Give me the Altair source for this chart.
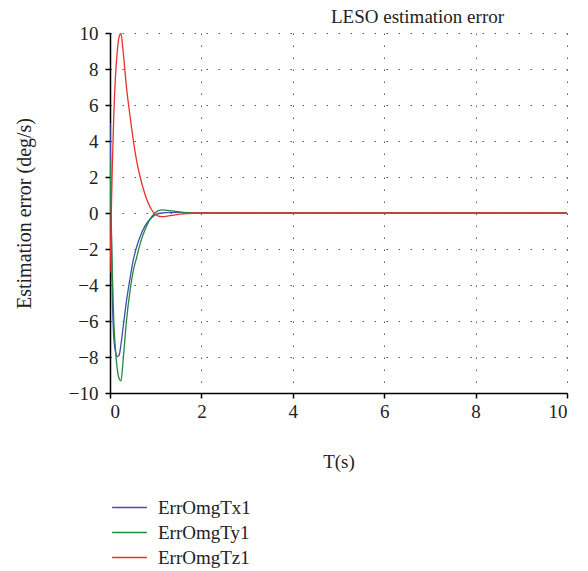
import altair as alt
import pandas as pd

t = [0, 0.01, 0.02, 0.03, 0.05, 0.08, 0.12, 0.16, 0.2, 0.24, 0.29, 0.36, 0.44,
     0.51, 0.58, 0.66, 0.77, 0.875, 0.98, 1.13, 1.31, 1.6, 2.0, 3, 4, 5, 6, 7, 8, 9, 10]
err_x = [5, 3.2, 1.0, -1.2, -4.5, -6.8, -7.7, -7.98, -7.9, -7.3, -6.3, -4.9, -3.6,
         -2.6, -1.9, -1.3, -0.7, -0.35, -0.12, 0.0, 0.03, 0.02, 0, 0, 0, 0, 0, 0, 0, 0, 0]
err_y = [3, 1.8, 0.5, -0.8, -3.2, -5.8, -7.6, -8.7, -9.2, -9.33, -8.1, -6.0, -4.3,
         -3.2, -2.5, -1.7, -0.9, -0.35, 0.0, 0.17, 0.13, 0.04, 0, 0, 0, 0, 0, 0, 0, 0, 0]
err_z = [-3.3, -2.2, -1.0, 0.2, 2.5, 5.2, 7.6, 9.0, 9.8, 9.97, 8.9, 7.0, 5.35,
         4.05, 2.94, 2.0, 1.0, 0.35, -0.05, -0.2, -0.15, -0.05, 0, 0, 0, 0, 0, 0, 0, 0, 0]
series = ["ErrOmgTx1", "ErrOmgTy1", "ErrOmgTz1"]
colors = ["#4050b0", "#23893f", "#e8332a"]

rows = []
for name, vals in zip(series, [err_x, err_y, err_z]):
    for ti, v in zip(t, vals):
        rows.append({"T": ti, "err": v, "series": name})
df = pd.DataFrame(rows)

font = "Liberation Serif, Times New Roman, serif"
fs = 19

chart = alt.Chart(df).mark_line(strokeWidth=1.3, interpolate="monotone", clip=True).encode(
    x=alt.X("T:Q", scale=alt.Scale(domain=[0, 10], nice=False),
            axis=alt.Axis(title="T(s)", values=[0, 2, 4, 6, 8, 10], titlePadding=31)),
    y=alt.Y("err:Q", scale=alt.Scale(domain=[-10, 10], nice=False),
            axis=alt.Axis(title="Estimation error (deg/s)", labelPadding=7,
                          titleFontSize=20,
                          values=list(range(-10, 11, 2)), titlePadding=34)),
    color=alt.Color("series:N", scale=alt.Scale(domain=series, range=colors),
                    legend=alt.Legend(title=None, orient="none", legendX=10, legendY=465,
                                      symbolType="M-2.9,0H2.9", symbolSize=144,
                                      symbolStrokeWidth=1.3, labelFont=font,
                                      labelFontSize=fs, labelColor="#222",
                                      labelOffset=19, rowPadding=5)),
).properties(
    width=457, height=360,
    title=alt.TitleParams("LESO estimation error", font=font, fontSize=fs,
                          fontWeight="normal", color="#222", anchor="middle",
                          dx=79, dy=8, offset=5),
    padding={"left": 102, "top": 25, "right": 13, "bottom": 178},
    autosize=alt.AutoSizeParams(type="none"),
).configure_axis(
    labelFont=font, labelFontSize=fs, labelColor="#222",
    titleFont=font, titleFontSize=fs, titleFontWeight="normal", titleColor="#222",
    domainColor="black", domainWidth=1.5, tickColor="black", tickWidth=1.5,
    tickSize=5, labelPadding=4,
    gridColor="#444", gridDash=[1.5, 10.5], gridWidth=1, gridOpacity=0.9,
).configure_view(stroke=None)

chart.save("out.html", embed_options={"renderer": "svg", "actions": False})
